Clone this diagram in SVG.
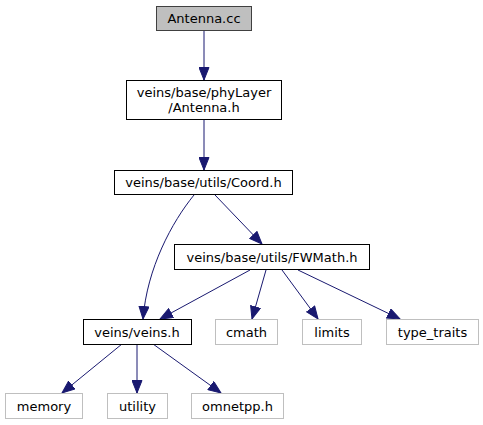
<svg xmlns="http://www.w3.org/2000/svg" width="483" height="425" viewBox="0 0 483 425">
<style>
text{font-family:"DejaVu Sans",sans-serif;font-size:13px;text-anchor:middle;fill:#000}
.n{fill:#fff;stroke:#000;stroke-width:1}
.g{fill:#fff;stroke:#bfbfbf;stroke-width:1}
.c{fill:#bfbfbf;stroke:#404040;stroke-width:1}
.e{fill:none;stroke:#191970;stroke-width:1;marker-end:url(#a)}
</style>
<defs>
<marker id="a" markerUnits="userSpaceOnUse" markerWidth="14" markerHeight="11" refX="13" refY="5.5" orient="auto">
<path d="M0.5,0.5 L13,5.5 L0.5,10.5 z" fill="#191970" stroke="#191970" stroke-width="1"/>
</marker>
</defs>
<g id="edges">
<path class="e" d="M204,30 L204,80"/>
<path class="e" d="M204,120 L204,170"/>
<path class="e" d="M194,195 C172,222 147,268 143,319"/>
<path class="e" d="M215,195 L262,244"/>
<path class="e" d="M250,270 L160,319"/>
<path class="e" d="M266,270 L252,319"/>
<path class="e" d="M282,270 L318,319"/>
<path class="e" d="M298,270 L400,319"/>
<path class="e" d="M122,344 L62,393"/>
<path class="e" d="M137,344 L137,393"/>
<path class="e" d="M153,344 L221,393"/>
</g>
<g id="antenna_cc"><rect class="c" x="156.5" y="6.5" width="95" height="24"/><text x="204" y="23">Antenna.cc</text></g>
<g id="antenna_h"><rect class="n" x="126.5" y="80.5" width="155" height="39"/><text x="204" y="97">veins/base/phyLayer</text><text x="204" y="112">/Antenna.h</text></g>
<g id="coord_h"><rect class="n" x="114.5" y="170.5" width="178" height="24"/><text x="203.5" y="187">veins/base/utils/Coord.h</text></g>
<g id="fwmath_h"><rect class="n" x="174.5" y="244.5" width="195" height="25"/><text x="272" y="262">veins/base/utils/FWMath.h</text></g>
<g id="veins_h"><rect class="n" x="83.5" y="319.5" width="108" height="25"/><text x="137" y="336.5">veins/veins.h</text></g>
<g id="cmath"><rect class="g" x="215.5" y="319.5" width="62" height="25"/><text x="246.5" y="336.5">cmath</text></g>
<g id="limits"><rect class="g" x="302.5" y="319.5" width="59" height="25"/><text x="332" y="336.5">limits</text></g>
<g id="type_traits"><rect class="g" x="386.5" y="319.5" width="92" height="25"/><text x="432.5" y="336.5">type_traits</text></g>
<g id="memory"><rect class="g" x="5.5" y="393.5" width="77" height="25"/><text x="44" y="410.5">memory</text></g>
<g id="utility"><rect class="g" x="107.5" y="393.5" width="60" height="25"/><text x="137.5" y="410.5">utility</text></g>
<g id="omnetpp_h"><rect class="g" x="191.5" y="393.5" width="92" height="25"/><text x="237.5" y="410.5">omnetpp.h</text></g>
</svg>
